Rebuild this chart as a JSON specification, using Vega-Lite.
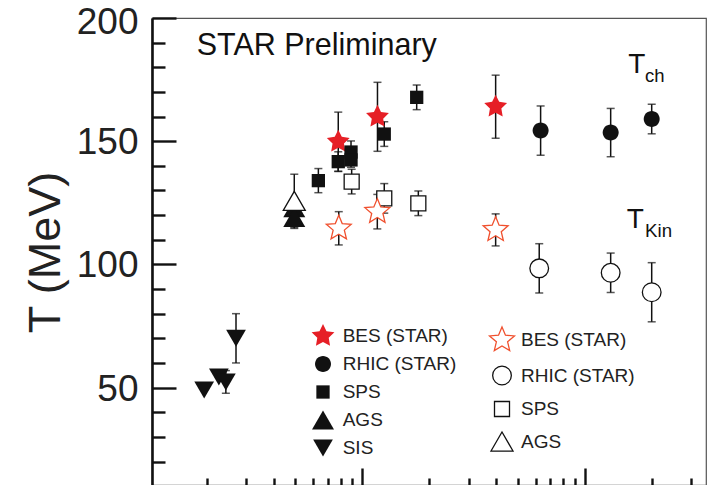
{
  "$schema": "https://vega.github.io/schema/vega-lite/v6.json",
  "autosize": {"type": "none"},
  "width": 554,
  "height": 467,
  "padding": {"left": 152, "top": 18, "right": 3, "bottom": 0},
  "config": {
    "view": {"stroke": "#555", "strokeWidth": 1.2},
    "font": "Liberation Sans",
    "axis": {"grid": false}
  },
  "data": {
    "values": [
      {"set": "ch", "exp": "BES (STAR)", "E": 7.8, "T": 149.8, "lo": 137.8, "hi": 161.8},
      {"set": "ch", "exp": "BES (STAR)", "E": 11.7, "T": 159.9, "lo": 145.9, "hi": 173.9},
      {"set": "ch", "exp": "BES (STAR)", "E": 39.7, "T": 164.0, "lo": 151.2, "hi": 176.8},
      {"set": "ch", "exp": "RHIC (STAR)", "E": 63.2, "T": 154.3, "lo": 144.3, "hi": 164.3},
      {"set": "ch", "exp": "RHIC (STAR)", "E": 130.4, "T": 153.5, "lo": 143.7, "hi": 163.3},
      {"set": "ch", "exp": "RHIC (STAR)", "E": 199.3, "T": 159.0, "lo": 153.0, "hi": 165.0},
      {"set": "ch", "exp": "SPS", "E": 6.35, "T": 134.0, "lo": 129.1, "hi": 138.9},
      {"set": "ch", "exp": "SPS", "E": 7.8, "T": 141.7, "lo": 137.7, "hi": 145.7},
      {"set": "ch", "exp": "SPS", "E": 8.9, "T": 145.6, "lo": 141.1, "hi": 150.1},
      {"set": "ch", "exp": "SPS", "E": 8.9, "T": 142.4, "lo": 139.4, "hi": 145.4},
      {"set": "ch", "exp": "SPS", "E": 12.55, "T": 152.9, "lo": 147.9, "hi": 157.9},
      {"set": "ch", "exp": "SPS", "E": 17.55, "T": 167.8, "lo": 162.8, "hi": 172.8},
      {"set": "ch", "exp": "AGS", "E": 4.95, "T": 123.0, "lo": 120.0, "hi": 126.0},
      {"set": "ch", "exp": "AGS", "E": 4.95, "T": 119.0, "lo": 114.6, "hi": 123.4},
      {"set": "ch", "exp": "SIS", "E": 1.95, "T": 49.0, "lo": 49.0, "hi": 49.0},
      {"set": "ch", "exp": "SIS", "E": 2.27, "T": 54.3, "lo": 54.3, "hi": 54.3},
      {"set": "ch", "exp": "SIS", "E": 2.44, "T": 52.3, "lo": 47.7, "hi": 56.9},
      {"set": "ch", "exp": "SIS", "E": 2.71, "T": 70.0, "lo": 60.0, "hi": 80.0},
      {"set": "kin", "exp": "AGS", "E": 4.95, "T": 125.8, "lo": 115.0, "hi": 136.6},
      {"set": "kin", "exp": "SPS", "E": 8.96, "T": 133.6, "lo": 128.6, "hi": 138.6},
      {"set": "kin", "exp": "SPS", "E": 12.55, "T": 126.8, "lo": 120.8, "hi": 132.8},
      {"set": "kin", "exp": "SPS", "E": 17.85, "T": 124.8, "lo": 119.8, "hi": 129.8},
      {"set": "kin", "exp": "BES (STAR)", "E": 7.84, "T": 114.65, "lo": 107.9, "hi": 121.4},
      {"set": "kin", "exp": "BES (STAR)", "E": 11.68, "T": 121.4, "lo": 114.4, "hi": 128.4},
      {"set": "kin", "exp": "BES (STAR)", "E": 39.7, "T": 114.0, "lo": 107.5, "hi": 120.5},
      {"set": "kin", "exp": "RHIC (STAR)", "E": 62.3, "T": 98.4, "lo": 88.4, "hi": 108.4},
      {"set": "kin", "exp": "RHIC (STAR)", "E": 130.4, "T": 96.6, "lo": 88.6, "hi": 104.6},
      {"set": "kin", "exp": "RHIC (STAR)", "E": 199.3, "T": 88.7, "lo": 76.7, "hi": 100.7}
    ]
  },
  "resolve": {
    "axis": {"x": "independent", "y": "independent"},
    "scale": {"shape": "independent", "color": "independent", "stroke": "independent"}
  },
  "layer": [
    {
      "mark": {"type": "rule", "color": "#111", "strokeWidth": 1.5},
      "encoding": {
        "x": {
          "field": "E", "type": "quantitative",
          "scale": {"type": "log", "domain": [1.137, 349.4], "nice": false, "zero": false},
          "axis": {"orient": "bottom", "values": [10, 100], "tickSize": -17, "tickWidth": 2.4, "tickColor": "#111", "labels": false, "domain": false, "title": null}
        },
        "y": {
          "field": "lo", "type": "quantitative",
          "scale": {"domain": [10.47, 200], "nice": false, "zero": false},
          "axis": {
            "orient": "left", "values": [50, 100, 150, 200], "ticks": false,
            "domain": true, "domainColor": "#111", "domainWidth": 2.6,
            "labelFontSize": 37, "labelFont": "Liberation Sans", "labelColor": "#222", "labelPadding": 14,
            "labelOffset": {"condition": {"test": "datum.value === 200", "value": 4.5}, "value": 1.5},
            "title": "T (MeV)", "titleFontSize": 45, "titleFont": "Liberation Sans", "titleFontWeight": "normal",
            "titleColor": "#222", "titleX": -93, "titleY": 234, "titleAngle": -90,
            "titleBaseline": "alphabetic", "titleAlign": "center"
          }
        },
        "y2": {"field": "hi"}
      }
    },
    {
      "mark": {"type": "tick", "orient": "horizontal", "color": "#111", "size": 8, "thickness": 1.5},
      "encoding": {
        "x": {
          "field": "E", "type": "quantitative",
          "axis": {"orient": "bottom", "values": [2, 3, 4, 5, 6, 7, 8, 9, 20, 30, 40, 50, 60, 70, 80, 90, 200, 300], "tickSize": -7, "tickWidth": 2.4, "tickColor": "#111", "labels": false, "domain": false, "title": null}
        },
        "y": {
          "field": "hi", "type": "quantitative",
          "axis": {"orient": "left", "values": [50, 100, 150, 200], "tickSize": -24, "tickWidth": 2.4, "tickColor": "#111", "labels": false, "domain": false, "title": null}
        }
      }
    },
    {
      "mark": {"type": "tick", "orient": "horizontal", "color": "#111", "size": 8, "thickness": 1.5},
      "encoding": {
        "x": {"field": "E", "type": "quantitative", "axis": null},
        "y": {
          "field": "lo", "type": "quantitative",
          "axis": {"orient": "left", "values": [20, 30, 40, 60, 70, 80, 90, 110, 120, 130, 140, 160, 170, 180, 190], "tickSize": -13, "tickWidth": 2.4, "tickColor": "#111", "labels": false, "domain": false, "title": null}
        }
      }
    },
    {
      "transform": [{"filter": "datum.set === 'ch'"}],
      "mark": {"type": "point", "filled": true, "opacity": 1, "strokeWidth": 0, "size": 900},
      "encoding": {
        "x": {"field": "E", "type": "quantitative", "axis": null},
        "y": {"field": "T", "type": "quantitative", "axis": null},
        "shape": {
          "field": "exp", "type": "nominal",
          "scale": {"domain": ["BES (STAR)", "RHIC (STAR)", "SPS", "AGS", "SIS"],
                    "range": [
                      "M0,-0.8L0.235,-0.324L0.761,-0.247L0.38,0.124L0.47,0.647L0,0.4L-0.47,0.647L-0.38,0.124L-0.761,-0.247L-0.235,-0.324Z",
                      "M-0.533,0A0.533,0.533 0 1,0 0.533,0A0.533,0.533 0 1,0 -0.533,0Z",
                      "M-0.443,-0.443H0.443V0.443H-0.443Z",
                      "M0,-0.635L0.733,0.635L-0.733,0.635Z",
                      "M0,0.57L0.658,-0.57L-0.658,-0.57Z"
                    ]},
          "legend": {
            "orient": "none", "legendX": 156, "legendY": 303, "title": null, "padding": 0,
            "labelFont": "Liberation Sans", "labelFontSize": 19, "labelColor": "#222", "labelOffset": 4.7,
            "rowPadding": 3, "symbolSize": 900, "symbolStrokeWidth": 0
          }
        },
        "color": {
          "field": "exp", "type": "nominal",
          "scale": {"domain": ["BES (STAR)", "RHIC (STAR)", "SPS", "AGS", "SIS"],
                    "range": ["#e61f26", "#111111", "#111111", "#111111", "#111111"]}
        }
      }
    },
    {
      "transform": [{"filter": "datum.set === 'kin'"}],
      "mark": {"type": "point", "filled": false, "fill": "white", "fillOpacity": 1, "opacity": 1, "strokeWidth": 1.3, "size": 900},
      "encoding": {
        "x": {"field": "E", "type": "quantitative", "axis": null},
        "y": {"field": "T", "type": "quantitative", "axis": null},
        "shape": {
          "field": "exp", "type": "nominal",
          "scale": {"domain": ["BES (STAR)", "RHIC (STAR)", "SPS", "AGS"],
                    "range": [
                      "M0,-0.873L0.231,-0.318L0.83,-0.27L0.374,0.121L0.513,0.706L0,0.393L-0.513,0.706L-0.374,0.121L-0.83,-0.27L-0.231,-0.318Z",
                      "M-0.623,0A0.623,0.623 0 1,0 0.623,0A0.623,0.623 0 1,0 -0.623,0Z",
                      "M-0.5,-0.5H0.5V0.5H-0.5Z",
                      "M0,-0.635L0.733,0.635L-0.733,0.635Z"
                    ]},
          "legend": {
            "orient": "none", "legendX": 334, "legendY": 306, "title": null, "padding": 0,
            "labelFont": "Liberation Sans", "labelFontSize": 19, "labelColor": "#222", "labelOffset": 3,
            "rowPadding": 5.5, "symbolSize": 900, "symbolFillColor": "white", "symbolStrokeWidth": 1.3
          }
        },
        "stroke": {
          "field": "exp", "type": "nominal",
          "scale": {"domain": ["BES (STAR)", "RHIC (STAR)", "SPS", "AGS"],
                    "range": ["#f0502e", "#111111", "#111111", "#111111"]}
        }
      }
    },
    {
      "data": {"values": [{}]},
      "mark": {"type": "text", "text": "STAR Preliminary", "align": "left", "baseline": "alphabetic", "fontSize": 30.5, "font": "Liberation Sans", "color": "#111"},
      "encoding": {
        "x": {"datum": 1.805, "type": "quantitative", "axis": null},
        "y": {"datum": 185.0, "type": "quantitative", "axis": null}
      }
    },
    {
      "data": {"values": [{}]},
      "mark": {"type": "text", "text": "T", "align": "left", "baseline": "alphabetic", "fontSize": 28, "font": "Liberation Sans", "color": "#111"},
      "encoding": {
        "x": {"datum": 156.5, "type": "quantitative", "axis": null},
        "y": {"datum": 177.8, "type": "quantitative", "axis": null}
      }
    },
    {
      "data": {"values": [{}]},
      "mark": {"type": "text", "text": "ch", "align": "left", "baseline": "alphabetic", "fontSize": 18.5, "font": "Liberation Sans", "color": "#111"},
      "encoding": {
        "x": {"datum": 186, "type": "quantitative", "axis": null},
        "y": {"datum": 174.1, "type": "quantitative", "axis": null}
      }
    },
    {
      "data": {"values": [{}]},
      "mark": {"type": "text", "text": "T", "align": "left", "baseline": "alphabetic", "fontSize": 28, "font": "Liberation Sans", "color": "#111"},
      "encoding": {
        "x": {"datum": 153.8, "type": "quantitative", "axis": null},
        "y": {"datum": 114.65, "type": "quantitative", "axis": null}
      }
    },
    {
      "data": {"values": [{}]},
      "mark": {"type": "text", "text": "Kin", "align": "left", "baseline": "alphabetic", "fontSize": 18.7, "font": "Liberation Sans", "color": "#111"},
      "encoding": {
        "x": {"datum": 186, "type": "quantitative", "axis": null},
        "y": {"datum": 111.2, "type": "quantitative", "axis": null}
      }
    }
  ]
}
